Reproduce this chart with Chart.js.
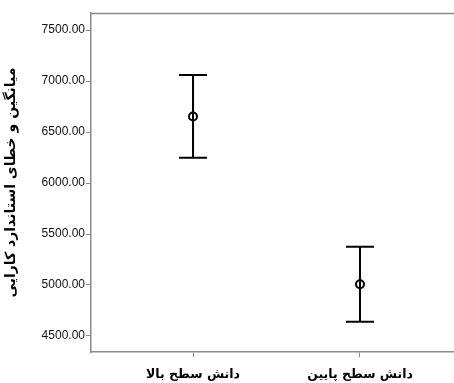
<!DOCTYPE html>
<html>
<head>
<meta charset="utf-8">
<script src="https://cdn.jsdelivr.net/npm/chart.js@4"></script>
<style>
  html, body { margin: 0; padding: 0; background: #fff; overflow: hidden; }
  #wrap { width: 454px; height: 383px; }
</style>
</head>
<body>
<div id="wrap"><canvas id="c" width="454" height="383"></canvas></div>
<script>
// Groups and their mean efficiency with standard-error bounds
const categories = ['دانش سطح بالا', 'دانش سطح پایین'];
const means = [6653, 5008];
const lowerBounds = [6248, 4640];
const upperBounds = [7059, 5376];
const yTicks = [4500, 5000, 5500, 6000, 6500, 7000, 7500];
const yTitle = 'میانگین و خطای استاندارد کارایی';

const axisGray = '#8a8a8a';

// Whiskers and caps for each group, drawn in pixel space from the scales
const errorBars = {
  id: 'errorBars',
  beforeDatasetsDraw(chart) {
    const { ctx, scales: { x, y } } = chart;
    ctx.save();
    ctx.strokeStyle = '#000';
    ctx.lineWidth = 2;
    const capHalf = 14;
    means.forEach((m, i) => {
      const px = x.getPixelForValue(i + 1);
      const top = y.getPixelForValue(upperBounds[i]);
      const bot = y.getPixelForValue(lowerBounds[i]);
      ctx.beginPath();
      ctx.moveTo(px, top); ctx.lineTo(px, bot);
      ctx.moveTo(px - capHalf, top); ctx.lineTo(px + capHalf, top);
      ctx.moveTo(px - capHalf, bot); ctx.lineTo(px + capHalf, bot);
      ctx.stroke();
    });
    ctx.restore();
  }
};

// Top edge of the plot frame
const frameTop = {
  id: 'frameTop',
  afterDraw(chart) {
    const { ctx, chartArea: a } = chart;
    ctx.save();
    ctx.strokeStyle = axisGray;
    ctx.lineWidth = 1.5;
    ctx.beginPath();
    ctx.moveTo(a.left, a.top + 0.5);
    ctx.lineTo(a.right, a.top + 0.5);
    ctx.stroke();
    ctx.restore();
  }
};

new Chart(document.getElementById('c'), {
  type: 'scatter',
  data: {
    datasets: [{
      data: means.map((m, i) => ({ x: i + 1, y: m })),
      pointStyle: 'circle',
      pointRadius: 4,
      pointHoverRadius: 4,
      borderWidth: 2,
      borderColor: '#000',
      backgroundColor: 'rgba(0,0,0,0)'
    }]
  },
  options: {
    responsive: false,
    animation: false,
    events: [],
    layout: { autoPadding: false, padding: { top: 13, left: 0, right: 0, bottom: 0 } },
    plugins: { legend: { display: false }, tooltip: { enabled: false } },
    scales: {
      x: {
        type: 'linear',
        min: 0.389,
        max: 2.563,
        afterBuildTicks(scale) { scale.ticks = categories.map((c, i) => ({ value: i + 1 })); },
        afterFit(scale) {
          scale.height = 31;
          scale.paddingLeft = 0;
          scale.paddingRight = 0;
        },
        ticks: {
          callback: (v) => categories[Math.round(v) - 1] || '',
          color: '#000',
          font: { family: 'DejaVu Sans', size: 12.5, weight: 'bold' },
          padding: 10,
          maxRotation: 0,
          autoSkip: false
        },
        grid: { display: true, drawOnChartArea: false, drawTicks: true, tickLength: 5, color: axisGray, lineWidth: 1 },
        border: { display: true, color: axisGray, width: 1.5 }
      },
      y: {
        min: 4343,
        max: 7667,
        afterBuildTicks(scale) { scale.ticks = yTicks.map(v => ({ value: v })); },
        afterFit(scale) { scale.width = 91; },
        ticks: {
          callback: (v) => Number(v).toFixed(2),
          color: '#111',
          font: { family: 'Liberation Sans', size: 12 },
          padding: 1,
          autoSkip: false
        },
        grid: { display: true, drawOnChartArea: false, drawTicks: true, tickLength: 5, color: axisGray, lineWidth: 1 },
        border: { display: true, color: axisGray, width: 1.5 },
        title: {
          display: true,
          text: yTitle,
          color: '#000',
          font: { family: 'DejaVu Sans', size: 14, weight: 'bold' },
          padding: { top: 3, bottom: 0 }
        }
      }
    }
  },
  plugins: [errorBars, frameTop]
});
</script>
</body>
</html>
